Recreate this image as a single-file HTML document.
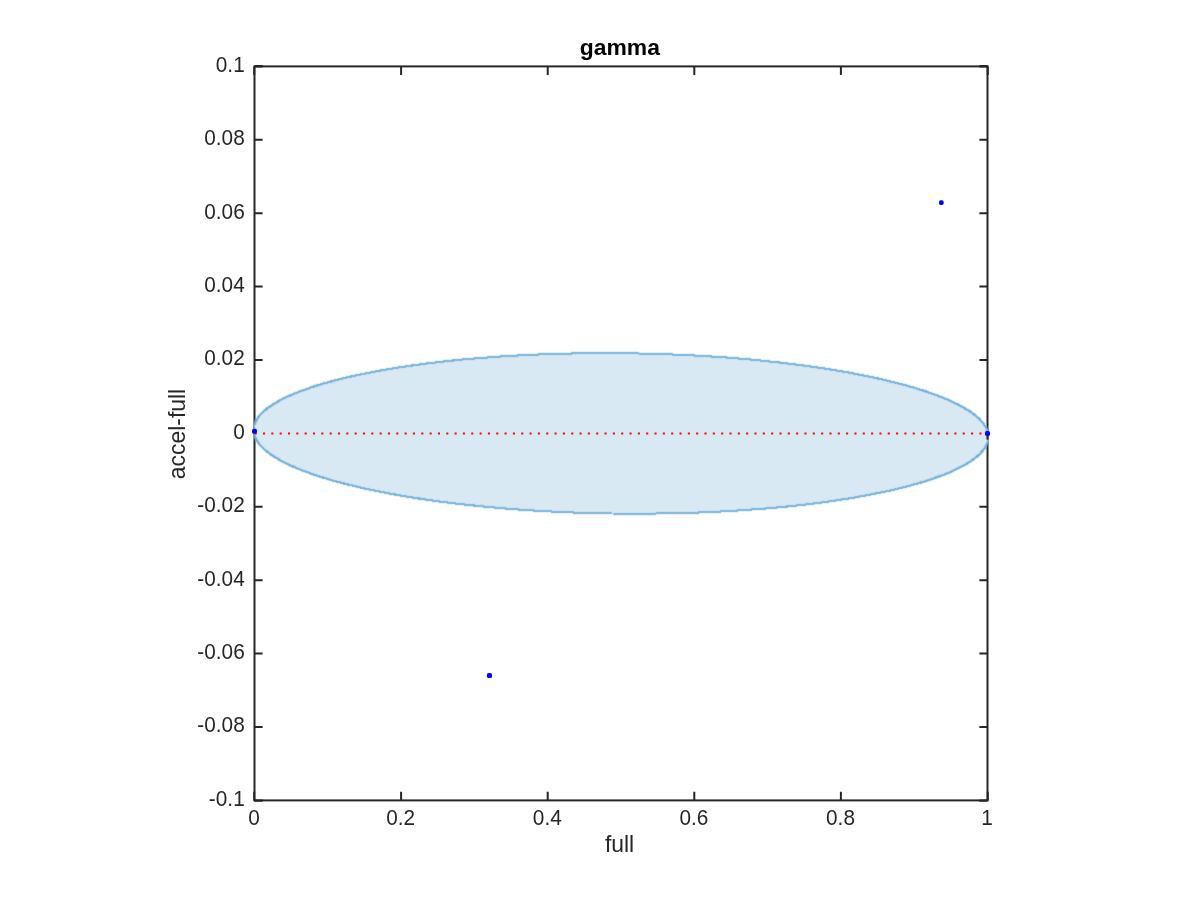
<!DOCTYPE html>
<html lang="en"><head><meta charset="utf-8"><title>gamma</title>
<style>
html,body{margin:0;padding:0;background:#fff;}
body{width:1200px;height:900px;overflow:hidden;}
svg{display:block;}
text{font-family:"Liberation Sans",sans-serif;fill:#262626;}
.tk{font-size:20.8px;}
.lb{font-size:22.9px;}
.tt{font-size:22.9px;font-weight:bold;fill:#000;}
</style></head><body>
<svg width="1200" height="900" viewBox="0 0 1200 900">
<rect width="1200" height="900" fill="#fff"/>
<rect x="254.5" y="66.4" width="733.0" height="734.0" fill="none" stroke="#262626" stroke-width="2.0"/>
<path d="M401.10 800.4v-8.7M401.10 66.4v8.7M547.70 800.4v-8.7M547.70 66.4v8.7M694.30 800.4v-8.7M694.30 66.4v8.7M840.90 800.4v-8.7M840.90 66.4v8.7M254.5 66.40h8.1M987.5 66.40h-8.1M254.5 139.80h8.1M987.5 139.80h-8.1M254.5 213.20h8.1M987.5 213.20h-8.1M254.5 286.60h8.1M987.5 286.60h-8.1M254.5 360.00h8.1M987.5 360.00h-8.1M254.5 433.40h8.1M987.5 433.40h-8.1M254.5 506.80h8.1M987.5 506.80h-8.1M254.5 580.20h8.1M987.5 580.20h-8.1M254.5 653.60h8.1M987.5 653.60h-8.1M254.5 727.00h8.1M987.5 727.00h-8.1M254.5 800.40h8.1M987.5 800.40h-8.1M254.2 800.4v-8.7M254.2 66.4v8.7M987.8 800.4v-8.7M987.8 66.4v8.7M254.5 66.1h8.1M254.5 800.7h8.1M987.5 66.1h-8.1M987.5 800.7h-8.1" fill="none" stroke="#262626" stroke-width="2.0"/>
<filter id="soft" x="-1%" y="-5%" width="102%" height="110%"><feConvolveMatrix order="3" kernelMatrix="0.04 0.11 0.04 0.11 0.40 0.11 0.04 0.11 0.04" divisor="1" preserveAlpha="false"/></filter>
<clipPath id="ax"><rect x="253.3" y="66.4" width="735.4" height="734.0"/></clipPath>
<g clip-path="url(#ax)"><g filter="url(#soft)" shape-rendering="crispEdges">
<polygon points="988.4,436.8 988.3,434.8 988.0,432.9 987.4,430.9 986.6,428.9 985.6,427.0 984.4,425.0 983.0,423.0 981.3,421.1 979.5,419.1 977.4,417.2 975.1,415.3 972.6,413.4 969.9,411.5 966.9,409.6 963.8,407.7 960.4,405.8 956.9,404.0 953.1,402.2 949.2,400.4 945.0,398.6 940.7,396.8 936.1,395.1 931.4,393.4 926.5,391.7 921.4,390.0 916.1,388.4 910.6,386.7 905.0,385.1 899.2,383.6 893.2,382.1 887.1,380.6 880.8,379.1 874.3,377.7 867.7,376.3 861.0,374.9 854.1,373.6 847.0,372.3 839.9,371.0 832.6,369.8 825.1,368.6 817.6,367.5 809.9,366.4 802.1,365.3 794.2,364.3 786.2,363.3 778.1,362.4 769.9,361.5 761.6,360.6 753.2,359.8 744.8,359.0 736.2,358.3 727.7,357.6 719.0,357.0 710.3,356.4 701.5,355.9 692.7,355.4 683.8,355.0 674.9,354.6 666.0,354.2 657.0,353.9 648.0,353.7 639.0,353.5 630.0,353.3 621.0,353.2 612.0,353.1 603.0,353.1 594.0,353.2 585.0,353.3 576.0,353.4 567.1,353.6 558.2,353.8 549.3,354.1 540.5,354.4 531.7,354.8 523.0,355.2 514.3,355.7 505.8,356.2 497.2,356.7 488.8,357.4 480.4,358.0 472.1,358.7 463.9,359.4 455.8,360.2 447.8,361.1 439.9,361.9 432.1,362.9 424.4,363.8 416.9,364.8 409.4,365.9 402.1,367.0 395.0,368.1 387.9,369.2 381.0,370.5 374.3,371.7 367.7,373.0 361.2,374.3 354.9,375.6 348.8,377.0 342.8,378.4 337.0,379.9 331.4,381.4 325.9,382.9 320.6,384.4 315.5,386.0 310.6,387.6 305.9,389.3 301.3,390.9 297.0,392.6 292.8,394.3 288.9,396.0 285.1,397.8 281.6,399.6 278.2,401.4 275.1,403.2 272.1,405.0 269.4,406.9 266.9,408.7 264.6,410.6 262.5,412.5 260.7,414.4 259.0,416.3 257.6,418.3 256.4,420.2 255.4,422.2 254.6,424.1 254.0,426.1 253.7,428.0 253.6,430.0 253.7,432.0 254.0,433.9 254.6,435.9 255.4,437.9 256.4,439.8 257.6,441.8 259.0,443.8 260.7,445.7 262.5,447.7 264.6,449.6 266.9,451.5 269.4,453.4 272.1,455.3 275.1,457.2 278.2,459.1 281.6,461.0 285.1,462.8 288.9,464.6 292.8,466.4 297.0,468.2 301.3,470.0 305.9,471.7 310.6,473.4 315.5,475.1 320.6,476.8 325.9,478.4 331.4,480.1 337.0,481.7 342.8,483.2 348.8,484.7 354.9,486.2 361.2,487.7 367.7,489.1 374.3,490.5 381.0,491.9 387.9,493.2 395.0,494.5 402.1,495.8 409.4,497.0 416.9,498.2 424.4,499.3 432.1,500.4 439.9,501.5 447.8,502.5 455.8,503.5 463.9,504.4 472.1,505.3 480.4,506.2 488.8,507.0 497.2,507.8 505.8,508.5 514.3,509.2 523.0,509.8 531.7,510.4 540.5,510.9 549.3,511.4 558.2,511.8 567.1,512.2 576.0,512.6 585.0,512.9 594.0,513.1 603.0,513.3 612.0,513.5 621.0,513.6 630.0,513.7 639.0,513.7 648.0,513.6 657.0,513.5 666.0,513.4 674.9,513.2 683.8,513.0 692.7,512.7 701.5,512.4 710.3,512.0 719.0,511.6 727.7,511.1 736.2,510.6 744.8,510.1 753.2,509.4 761.6,508.8 769.9,508.1 778.1,507.4 786.2,506.6 794.2,505.7 802.1,504.9 809.9,503.9 817.6,503.0 825.1,502.0 832.6,500.9 839.9,499.8 847.0,498.7 854.1,497.6 861.0,496.3 867.7,495.1 874.3,493.8 880.8,492.5 887.1,491.2 893.2,489.8 899.2,488.4 905.0,486.9 910.6,485.4 916.1,483.9 921.4,482.4 926.5,480.8 931.4,479.2 936.1,477.5 940.7,475.9 945.0,474.2 949.2,472.5 953.1,470.8 956.9,469.0 960.4,467.2 963.8,465.4 966.9,463.6 969.9,461.8 972.6,459.9 975.1,458.1 977.4,456.2 979.5,454.3 981.3,452.4 983.0,450.5 984.4,448.5 985.6,446.6 986.6,444.6 987.4,442.7 988.0,440.7 988.3,438.8" fill="#d9e9f4" stroke="#6cafdc" stroke-width="1" stroke-linejoin="round" transform="translate(-0.5 -0.5)"/>
<polygon points="988.4,436.8 988.3,434.8 988.0,432.9 987.4,430.9 986.6,428.9 985.6,427.0 984.4,425.0 983.0,423.0 981.3,421.1 979.5,419.1 977.4,417.2 975.1,415.3 972.6,413.4 969.9,411.5 966.9,409.6 963.8,407.7 960.4,405.8 956.9,404.0 953.1,402.2 949.2,400.4 945.0,398.6 940.7,396.8 936.1,395.1 931.4,393.4 926.5,391.7 921.4,390.0 916.1,388.4 910.6,386.7 905.0,385.1 899.2,383.6 893.2,382.1 887.1,380.6 880.8,379.1 874.3,377.7 867.7,376.3 861.0,374.9 854.1,373.6 847.0,372.3 839.9,371.0 832.6,369.8 825.1,368.6 817.6,367.5 809.9,366.4 802.1,365.3 794.2,364.3 786.2,363.3 778.1,362.4 769.9,361.5 761.6,360.6 753.2,359.8 744.8,359.0 736.2,358.3 727.7,357.6 719.0,357.0 710.3,356.4 701.5,355.9 692.7,355.4 683.8,355.0 674.9,354.6 666.0,354.2 657.0,353.9 648.0,353.7 639.0,353.5 630.0,353.3 621.0,353.2 612.0,353.1 603.0,353.1 594.0,353.2 585.0,353.3 576.0,353.4 567.1,353.6 558.2,353.8 549.3,354.1 540.5,354.4 531.7,354.8 523.0,355.2 514.3,355.7 505.8,356.2 497.2,356.7 488.8,357.4 480.4,358.0 472.1,358.7 463.9,359.4 455.8,360.2 447.8,361.1 439.9,361.9 432.1,362.9 424.4,363.8 416.9,364.8 409.4,365.9 402.1,367.0 395.0,368.1 387.9,369.2 381.0,370.5 374.3,371.7 367.7,373.0 361.2,374.3 354.9,375.6 348.8,377.0 342.8,378.4 337.0,379.9 331.4,381.4 325.9,382.9 320.6,384.4 315.5,386.0 310.6,387.6 305.9,389.3 301.3,390.9 297.0,392.6 292.8,394.3 288.9,396.0 285.1,397.8 281.6,399.6 278.2,401.4 275.1,403.2 272.1,405.0 269.4,406.9 266.9,408.7 264.6,410.6 262.5,412.5 260.7,414.4 259.0,416.3 257.6,418.3 256.4,420.2 255.4,422.2 254.6,424.1 254.0,426.1 253.7,428.0 253.6,430.0 253.7,432.0 254.0,433.9 254.6,435.9 255.4,437.9 256.4,439.8 257.6,441.8 259.0,443.8 260.7,445.7 262.5,447.7 264.6,449.6 266.9,451.5 269.4,453.4 272.1,455.3 275.1,457.2 278.2,459.1 281.6,461.0 285.1,462.8 288.9,464.6 292.8,466.4 297.0,468.2 301.3,470.0 305.9,471.7 310.6,473.4 315.5,475.1 320.6,476.8 325.9,478.4 331.4,480.1 337.0,481.7 342.8,483.2 348.8,484.7 354.9,486.2 361.2,487.7 367.7,489.1 374.3,490.5 381.0,491.9 387.9,493.2 395.0,494.5 402.1,495.8 409.4,497.0 416.9,498.2 424.4,499.3 432.1,500.4 439.9,501.5 447.8,502.5 455.8,503.5 463.9,504.4 472.1,505.3 480.4,506.2 488.8,507.0 497.2,507.8 505.8,508.5 514.3,509.2 523.0,509.8 531.7,510.4 540.5,510.9 549.3,511.4 558.2,511.8 567.1,512.2 576.0,512.6 585.0,512.9 594.0,513.1 603.0,513.3 612.0,513.5 621.0,513.6 630.0,513.7 639.0,513.7 648.0,513.6 657.0,513.5 666.0,513.4 674.9,513.2 683.8,513.0 692.7,512.7 701.5,512.4 710.3,512.0 719.0,511.6 727.7,511.1 736.2,510.6 744.8,510.1 753.2,509.4 761.6,508.8 769.9,508.1 778.1,507.4 786.2,506.6 794.2,505.7 802.1,504.9 809.9,503.9 817.6,503.0 825.1,502.0 832.6,500.9 839.9,499.8 847.0,498.7 854.1,497.6 861.0,496.3 867.7,495.1 874.3,493.8 880.8,492.5 887.1,491.2 893.2,489.8 899.2,488.4 905.0,486.9 910.6,485.4 916.1,483.9 921.4,482.4 926.5,480.8 931.4,479.2 936.1,477.5 940.7,475.9 945.0,474.2 949.2,472.5 953.1,470.8 956.9,469.0 960.4,467.2 963.8,465.4 966.9,463.6 969.9,461.8 972.6,459.9 975.1,458.1 977.4,456.2 979.5,454.3 981.3,452.4 983.0,450.5 984.4,448.5 985.6,446.6 986.6,444.6 987.4,442.7 988.0,440.7 988.3,438.8" fill="none" stroke="#6cafdc" stroke-width="1" stroke-linejoin="round" transform="translate(0.5 -0.5)"/>
<polygon points="988.4,436.8 988.3,434.8 988.0,432.9 987.4,430.9 986.6,428.9 985.6,427.0 984.4,425.0 983.0,423.0 981.3,421.1 979.5,419.1 977.4,417.2 975.1,415.3 972.6,413.4 969.9,411.5 966.9,409.6 963.8,407.7 960.4,405.8 956.9,404.0 953.1,402.2 949.2,400.4 945.0,398.6 940.7,396.8 936.1,395.1 931.4,393.4 926.5,391.7 921.4,390.0 916.1,388.4 910.6,386.7 905.0,385.1 899.2,383.6 893.2,382.1 887.1,380.6 880.8,379.1 874.3,377.7 867.7,376.3 861.0,374.9 854.1,373.6 847.0,372.3 839.9,371.0 832.6,369.8 825.1,368.6 817.6,367.5 809.9,366.4 802.1,365.3 794.2,364.3 786.2,363.3 778.1,362.4 769.9,361.5 761.6,360.6 753.2,359.8 744.8,359.0 736.2,358.3 727.7,357.6 719.0,357.0 710.3,356.4 701.5,355.9 692.7,355.4 683.8,355.0 674.9,354.6 666.0,354.2 657.0,353.9 648.0,353.7 639.0,353.5 630.0,353.3 621.0,353.2 612.0,353.1 603.0,353.1 594.0,353.2 585.0,353.3 576.0,353.4 567.1,353.6 558.2,353.8 549.3,354.1 540.5,354.4 531.7,354.8 523.0,355.2 514.3,355.7 505.8,356.2 497.2,356.7 488.8,357.4 480.4,358.0 472.1,358.7 463.9,359.4 455.8,360.2 447.8,361.1 439.9,361.9 432.1,362.9 424.4,363.8 416.9,364.8 409.4,365.9 402.1,367.0 395.0,368.1 387.9,369.2 381.0,370.5 374.3,371.7 367.7,373.0 361.2,374.3 354.9,375.6 348.8,377.0 342.8,378.4 337.0,379.9 331.4,381.4 325.9,382.9 320.6,384.4 315.5,386.0 310.6,387.6 305.9,389.3 301.3,390.9 297.0,392.6 292.8,394.3 288.9,396.0 285.1,397.8 281.6,399.6 278.2,401.4 275.1,403.2 272.1,405.0 269.4,406.9 266.9,408.7 264.6,410.6 262.5,412.5 260.7,414.4 259.0,416.3 257.6,418.3 256.4,420.2 255.4,422.2 254.6,424.1 254.0,426.1 253.7,428.0 253.6,430.0 253.7,432.0 254.0,433.9 254.6,435.9 255.4,437.9 256.4,439.8 257.6,441.8 259.0,443.8 260.7,445.7 262.5,447.7 264.6,449.6 266.9,451.5 269.4,453.4 272.1,455.3 275.1,457.2 278.2,459.1 281.6,461.0 285.1,462.8 288.9,464.6 292.8,466.4 297.0,468.2 301.3,470.0 305.9,471.7 310.6,473.4 315.5,475.1 320.6,476.8 325.9,478.4 331.4,480.1 337.0,481.7 342.8,483.2 348.8,484.7 354.9,486.2 361.2,487.7 367.7,489.1 374.3,490.5 381.0,491.9 387.9,493.2 395.0,494.5 402.1,495.8 409.4,497.0 416.9,498.2 424.4,499.3 432.1,500.4 439.9,501.5 447.8,502.5 455.8,503.5 463.9,504.4 472.1,505.3 480.4,506.2 488.8,507.0 497.2,507.8 505.8,508.5 514.3,509.2 523.0,509.8 531.7,510.4 540.5,510.9 549.3,511.4 558.2,511.8 567.1,512.2 576.0,512.6 585.0,512.9 594.0,513.1 603.0,513.3 612.0,513.5 621.0,513.6 630.0,513.7 639.0,513.7 648.0,513.6 657.0,513.5 666.0,513.4 674.9,513.2 683.8,513.0 692.7,512.7 701.5,512.4 710.3,512.0 719.0,511.6 727.7,511.1 736.2,510.6 744.8,510.1 753.2,509.4 761.6,508.8 769.9,508.1 778.1,507.4 786.2,506.6 794.2,505.7 802.1,504.9 809.9,503.9 817.6,503.0 825.1,502.0 832.6,500.9 839.9,499.8 847.0,498.7 854.1,497.6 861.0,496.3 867.7,495.1 874.3,493.8 880.8,492.5 887.1,491.2 893.2,489.8 899.2,488.4 905.0,486.9 910.6,485.4 916.1,483.9 921.4,482.4 926.5,480.8 931.4,479.2 936.1,477.5 940.7,475.9 945.0,474.2 949.2,472.5 953.1,470.8 956.9,469.0 960.4,467.2 963.8,465.4 966.9,463.6 969.9,461.8 972.6,459.9 975.1,458.1 977.4,456.2 979.5,454.3 981.3,452.4 983.0,450.5 984.4,448.5 985.6,446.6 986.6,444.6 987.4,442.7 988.0,440.7 988.3,438.8" fill="none" stroke="#6cafdc" stroke-width="1" stroke-linejoin="round" transform="translate(-0.5 0.5)"/>
<polygon points="988.4,436.8 988.3,434.8 988.0,432.9 987.4,430.9 986.6,428.9 985.6,427.0 984.4,425.0 983.0,423.0 981.3,421.1 979.5,419.1 977.4,417.2 975.1,415.3 972.6,413.4 969.9,411.5 966.9,409.6 963.8,407.7 960.4,405.8 956.9,404.0 953.1,402.2 949.2,400.4 945.0,398.6 940.7,396.8 936.1,395.1 931.4,393.4 926.5,391.7 921.4,390.0 916.1,388.4 910.6,386.7 905.0,385.1 899.2,383.6 893.2,382.1 887.1,380.6 880.8,379.1 874.3,377.7 867.7,376.3 861.0,374.9 854.1,373.6 847.0,372.3 839.9,371.0 832.6,369.8 825.1,368.6 817.6,367.5 809.9,366.4 802.1,365.3 794.2,364.3 786.2,363.3 778.1,362.4 769.9,361.5 761.6,360.6 753.2,359.8 744.8,359.0 736.2,358.3 727.7,357.6 719.0,357.0 710.3,356.4 701.5,355.9 692.7,355.4 683.8,355.0 674.9,354.6 666.0,354.2 657.0,353.9 648.0,353.7 639.0,353.5 630.0,353.3 621.0,353.2 612.0,353.1 603.0,353.1 594.0,353.2 585.0,353.3 576.0,353.4 567.1,353.6 558.2,353.8 549.3,354.1 540.5,354.4 531.7,354.8 523.0,355.2 514.3,355.7 505.8,356.2 497.2,356.7 488.8,357.4 480.4,358.0 472.1,358.7 463.9,359.4 455.8,360.2 447.8,361.1 439.9,361.9 432.1,362.9 424.4,363.8 416.9,364.8 409.4,365.9 402.1,367.0 395.0,368.1 387.9,369.2 381.0,370.5 374.3,371.7 367.7,373.0 361.2,374.3 354.9,375.6 348.8,377.0 342.8,378.4 337.0,379.9 331.4,381.4 325.9,382.9 320.6,384.4 315.5,386.0 310.6,387.6 305.9,389.3 301.3,390.9 297.0,392.6 292.8,394.3 288.9,396.0 285.1,397.8 281.6,399.6 278.2,401.4 275.1,403.2 272.1,405.0 269.4,406.9 266.9,408.7 264.6,410.6 262.5,412.5 260.7,414.4 259.0,416.3 257.6,418.3 256.4,420.2 255.4,422.2 254.6,424.1 254.0,426.1 253.7,428.0 253.6,430.0 253.7,432.0 254.0,433.9 254.6,435.9 255.4,437.9 256.4,439.8 257.6,441.8 259.0,443.8 260.7,445.7 262.5,447.7 264.6,449.6 266.9,451.5 269.4,453.4 272.1,455.3 275.1,457.2 278.2,459.1 281.6,461.0 285.1,462.8 288.9,464.6 292.8,466.4 297.0,468.2 301.3,470.0 305.9,471.7 310.6,473.4 315.5,475.1 320.6,476.8 325.9,478.4 331.4,480.1 337.0,481.7 342.8,483.2 348.8,484.7 354.9,486.2 361.2,487.7 367.7,489.1 374.3,490.5 381.0,491.9 387.9,493.2 395.0,494.5 402.1,495.8 409.4,497.0 416.9,498.2 424.4,499.3 432.1,500.4 439.9,501.5 447.8,502.5 455.8,503.5 463.9,504.4 472.1,505.3 480.4,506.2 488.8,507.0 497.2,507.8 505.8,508.5 514.3,509.2 523.0,509.8 531.7,510.4 540.5,510.9 549.3,511.4 558.2,511.8 567.1,512.2 576.0,512.6 585.0,512.9 594.0,513.1 603.0,513.3 612.0,513.5 621.0,513.6 630.0,513.7 639.0,513.7 648.0,513.6 657.0,513.5 666.0,513.4 674.9,513.2 683.8,513.0 692.7,512.7 701.5,512.4 710.3,512.0 719.0,511.6 727.7,511.1 736.2,510.6 744.8,510.1 753.2,509.4 761.6,508.8 769.9,508.1 778.1,507.4 786.2,506.6 794.2,505.7 802.1,504.9 809.9,503.9 817.6,503.0 825.1,502.0 832.6,500.9 839.9,499.8 847.0,498.7 854.1,497.6 861.0,496.3 867.7,495.1 874.3,493.8 880.8,492.5 887.1,491.2 893.2,489.8 899.2,488.4 905.0,486.9 910.6,485.4 916.1,483.9 921.4,482.4 926.5,480.8 931.4,479.2 936.1,477.5 940.7,475.9 945.0,474.2 949.2,472.5 953.1,470.8 956.9,469.0 960.4,467.2 963.8,465.4 966.9,463.6 969.9,461.8 972.6,459.9 975.1,458.1 977.4,456.2 979.5,454.3 981.3,452.4 983.0,450.5 984.4,448.5 985.6,446.6 986.6,444.6 987.4,442.7 988.0,440.7 988.3,438.8" fill="none" stroke="#6cafdc" stroke-width="1" stroke-linejoin="round" transform="translate(0.5 0.5)"/>
</g></g>
<path d="M987.5 436v3.6" stroke="#262626" stroke-width="2.0" fill="none"/>
<line x1="254.65" y1="433.5" x2="987" y2="433.5" stroke="#ff0505" stroke-width="2.1" stroke-dasharray="2.1 6.23"/>
<text class="tk" transform="translate(254.10 825) scale(1 1.05)" text-anchor="middle">0</text>
<text class="tk" transform="translate(400.70 825) scale(1 1.05)" text-anchor="middle">0.2</text>
<text class="tk" transform="translate(547.30 825) scale(1 1.05)" text-anchor="middle">0.4</text>
<text class="tk" transform="translate(693.90 825) scale(1 1.05)" text-anchor="middle">0.6</text>
<text class="tk" transform="translate(840.50 825) scale(1 1.05)" text-anchor="middle">0.8</text>
<text class="tk" transform="translate(987.10 825) scale(1 1.05)" text-anchor="middle">1</text>
<text class="tk" transform="translate(244.7 71.70) scale(1 1.05)" text-anchor="end">0.1</text>
<text class="tk" transform="translate(244.7 145.10) scale(1 1.05)" text-anchor="end">0.08</text>
<text class="tk" transform="translate(244.7 218.50) scale(1 1.05)" text-anchor="end">0.06</text>
<text class="tk" transform="translate(244.7 291.90) scale(1 1.05)" text-anchor="end">0.04</text>
<text class="tk" transform="translate(244.7 365.30) scale(1 1.05)" text-anchor="end">0.02</text>
<text class="tk" transform="translate(244.7 438.70) scale(1 1.05)" text-anchor="end">0</text>
<text class="tk" transform="translate(244.7 512.10) scale(1 1.05)" text-anchor="end">-0.02</text>
<text class="tk" transform="translate(244.7 585.50) scale(1 1.05)" text-anchor="end">-0.04</text>
<text class="tk" transform="translate(244.7 658.90) scale(1 1.05)" text-anchor="end">-0.06</text>
<text class="tk" transform="translate(244.7 732.30) scale(1 1.05)" text-anchor="end">-0.08</text>
<text class="tk" transform="translate(244.7 805.70) scale(1 1.05)" text-anchor="end">-0.1</text>
<text class="tt" x="619.8" y="55" text-anchor="middle">gamma</text>
<text class="lb" transform="translate(619.5 851.7) scale(1 1.015)" text-anchor="middle">full</text>
<text class="lb" transform="translate(185.2 434) rotate(-90) scale(1 1.015)" text-anchor="middle">accel-full</text>
<rect x="252.00" y="428.80" width="5.0" height="5.0" rx="1.80" fill="#0000ff"/>
<rect x="985.00" y="430.95" width="5.0" height="5.0" rx="1.80" fill="#0000ff"/>
<rect x="939.05" y="200.35" width="4.6" height="4.6" rx="1.66" fill="#0000ff"/>
<rect x="486.95" y="672.95" width="5.1" height="5.1" rx="1.84" fill="#0000ff"/>
</svg></body></html>
